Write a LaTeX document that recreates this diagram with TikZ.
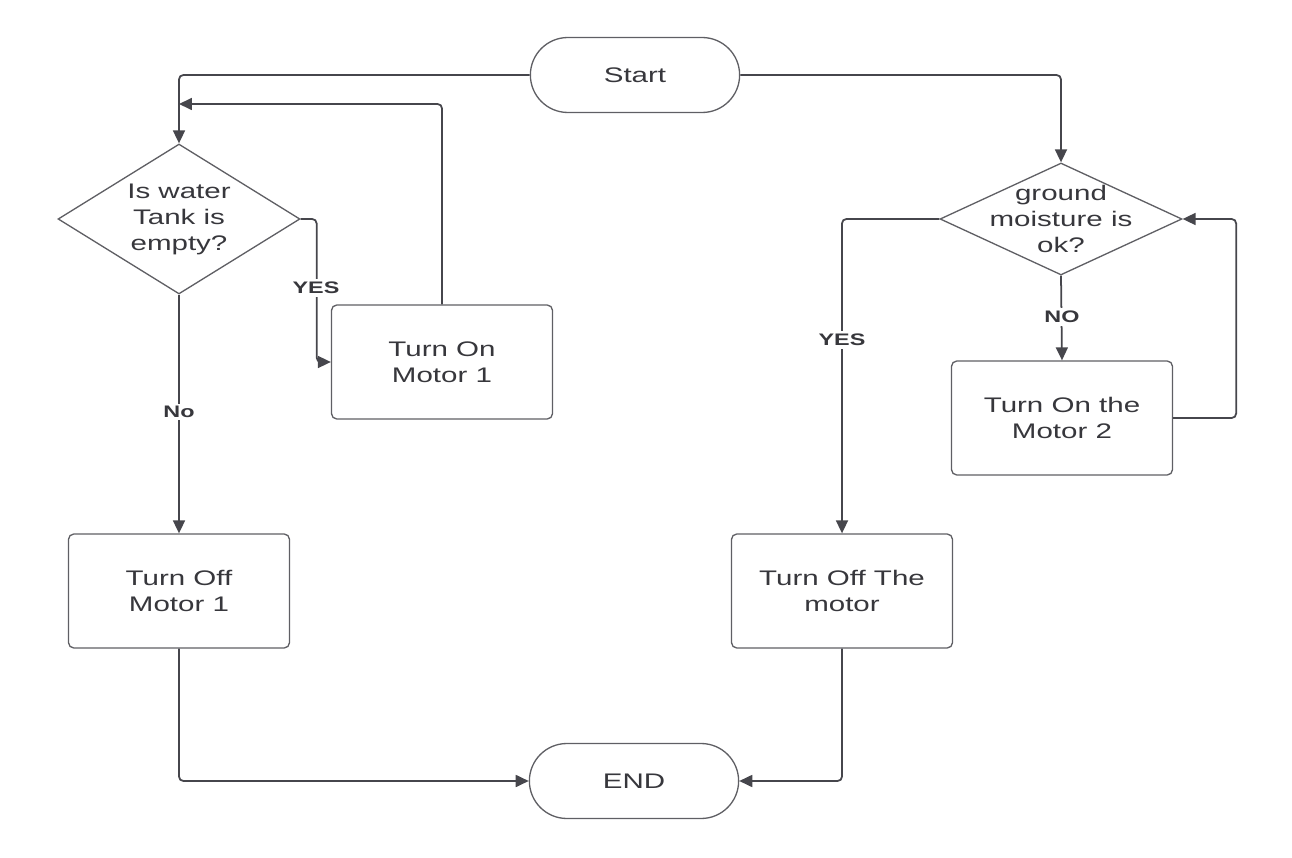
\documentclass[tikz,border=0pt]{standalone}
\usepackage{fontspec}
\setmainfont[FakeStretch=1.4]{Liberation Sans}
\usetikzlibrary{shapes.geometric, shapes.misc, arrows.meta, positioning}
\definecolor{linegray}{RGB}{70,70,76}
\definecolor{boxgray}{RGB}{95,95,100}
\definecolor{textgray}{RGB}{55,55,60}

\begin{document}
\begin{tikzpicture}[x=0.02cm, y=-0.02cm,
    txt/.style={font=\fontsize{12}{14.8}\selectfont, text=textgray, align=center},
    terminal/.style={txt, draw=boxgray, rounded rectangle, line width=0.75pt,
                     minimum width=4.42cm, minimum height=1.5cm},
    process/.style={txt, draw=boxgray, rounded corners=3pt, line width=0.75pt,
                    minimum width=4.42cm, minimum height=2.28cm},
    decision/.style={draw=boxgray, diamond, inner sep=0pt, line width=0.75pt,
                     minimum width=4.84cm},
    arrow/.style={-{Triangle[length=0.26cm, width=0.24cm]}, line width=1pt,
                  draw=linegray, rounded corners=2.5pt},
    label/.style={font=\bfseries\fontsize{9.5}{11}\selectfont, text=textgray,
                  fill=white, inner sep=1.5pt},
]
  \useasboundingbox (0,0) rectangle (1292,858);

  \node[terminal] (start) at (635,75)  {Start};
  \node[terminal] (end)   at (634,781) {END};

  \node[decision, minimum height=3cm]   (tank) at (179,219) {};
  \node[txt] at (tank) {Is water\\Tank is\\empty?};
  \node[decision, minimum height=2.24cm] (soil) at (1061,219) {};
  \node[txt] at (soil) {ground\\moisture is\\ok?};

  \node[process] (on1)  at (442,362)  {Turn On\\Motor 1};
  \node[process] (off1) at (179,591)  {Turn Off\\Motor 1};
  \node[process] (offm) at (842,591)  {Turn Off The\\motor};
  \node[process] (on2)  at (1062,418) {Turn On the\\Motor 2};

  \coordinate (back1) at (179,104);

  \draw[arrow] (start.west) -| (tank.north);
  \draw[arrow] (start.east) -| (soil.north);
  \draw[arrow] (tank.east) -- ++(16,0) |- (on1.west);
  \draw[arrow] (on1.north) |- (back1);
  \draw[arrow] (tank.south) -- (off1.north);
  \draw[arrow] (off1.south) |- (end.west);
  \draw[arrow] (soil.west) -| (offm.north);
  \draw[arrow] (soil.south) -- (on2.north);
  \draw[arrow] (on2.east) -- ++(63,0) |- (soil.east);
  \draw[arrow] (offm.south) |- (end.east);

  \node[label] at (316,288)  {YES};
  \node[label] at (179,412)  {No};
  \node[label] at (842,340)  {YES};
  \node[label] at (1062,317) {NO};
\end{tikzpicture}
\end{document}
